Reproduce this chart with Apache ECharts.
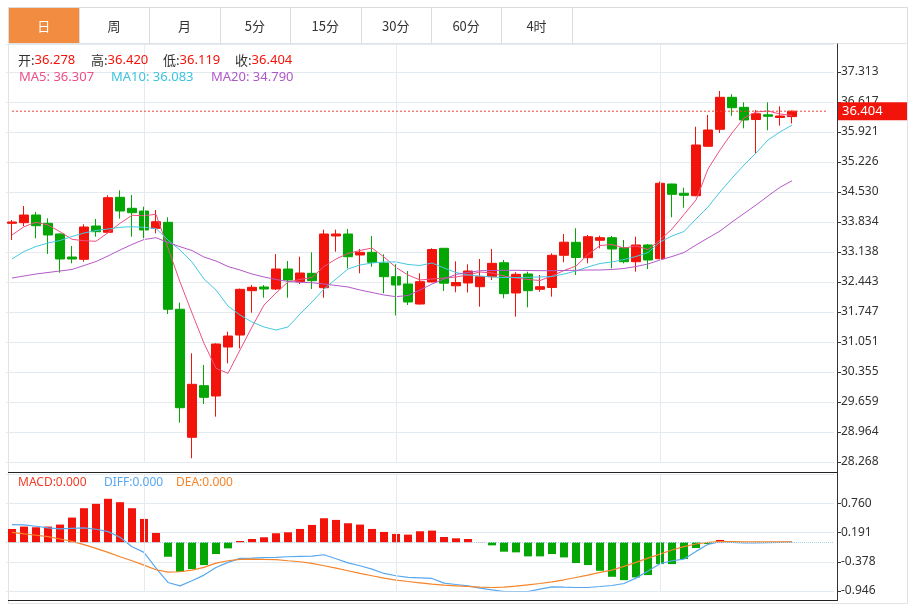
<!DOCTYPE html>
<html><head><meta charset="utf-8">
<script src="https://cdn.jsdelivr.net/npm/echarts@6/dist/echarts.min.js"></script>
<style>html,body{margin:0;padding:0;background:#fff}#c{width:915px;height:605px}</style>
</head><body><div id="c"></div>
<script>
// ---------- data ----------
const tabs = ['日','周','月','5分','15分','30分','60分','4时'];
const categories = Array.from({length: 69}, (_, i) => 'D' + (i + 1));
// [open, close, low, high]
const ohlc = [
 [33.804,33.834,33.417,33.880],[33.818,33.996,33.741,34.205],[33.996,33.748,33.456,34.066],[33.804,33.533,33.092,33.920],
 [33.556,32.976,32.658,33.572],[33.022,32.976,32.876,33.278],[32.969,33.718,32.913,33.781],[33.741,33.609,33.493,33.904],
 [33.595,34.398,33.572,34.453],[34.407,34.089,33.911,34.569],[34.152,34.050,33.493,34.460],[34.089,33.649,33.456,34.189],
 [33.688,33.841,33.572,34.112],[33.827,31.810,31.701,33.943],[31.810,29.527,29.180,31.963],[28.841,30.070,28.354,30.789],
 [30.038,29.768,29.613,30.518],[29.799,31.005,29.319,31.021],[30.935,31.190,30.557,31.290],[31.213,32.273,30.905,32.290],
 [32.241,32.320,31.731,32.373],[32.327,32.280,32.078,32.373],[32.280,32.744,32.257,33.092],[32.744,32.489,32.078,32.930],
 [32.449,32.651,32.396,33.029],[32.644,32.473,32.280,33.131],[32.310,33.556,32.078,33.656],[33.510,33.556,33.145,33.656],
 [33.556,33.029,32.760,33.672],[33.069,33.131,32.644,33.208],[33.131,32.900,32.797,33.510],[32.883,32.566,32.181,33.085],
 [32.566,32.373,31.666,32.853],[32.396,31.979,31.909,32.698],[31.932,32.450,31.920,32.644],[32.443,33.196,32.436,33.224],
 [33.224,32.415,32.234,33.230],[32.354,32.431,32.204,32.923],[32.420,32.698,32.199,32.853],[32.334,32.565,31.870,32.976],
 [32.565,32.876,32.489,33.208],[32.890,32.171,32.065,32.953],[32.188,32.621,31.638,32.668],[32.628,32.241,31.856,32.682],
 [32.273,32.334,32.218,32.605],[32.315,33.062,32.102,33.108],[33.062,33.366,32.900,33.556],[33.363,33.011,32.605,33.688],
 [33.006,33.493,32.876,33.533],[33.410,33.470,33.224,33.517],[33.470,33.208,32.760,33.510],[33.238,32.913,32.876,33.417],
 [32.913,33.301,32.681,33.493],[33.301,32.953,32.744,33.324],[32.983,34.732,32.970,34.773],[34.715,34.476,33.943,34.720],
 [34.500,34.453,34.166,34.630],[34.444,35.620,34.430,36.044],[35.590,35.968,35.580,36.316],[35.984,36.726,35.898,36.872],
 [36.726,36.485,36.297,36.798],[36.494,36.200,36.007,36.610],[36.211,36.344,35.434,36.432],[36.320,36.286,35.961,36.610],
 [36.258,36.293,36.068,36.517],[36.278,36.404,36.119,36.420]
];
const ma5 = [33.533,33.725,33.827,33.765,33.609,33.433,33.400,33.387,33.586,33.804,33.990,33.980,34.013,33.231,32.443,31.724,
 31.021,30.441,30.325,30.866,31.399,31.909,32.188,32.443,32.501,32.547,32.802,32.976,33.104,33.173,33.231,33.022,32.779,
 32.605,32.489,32.512,32.535,32.559,32.605,32.675,32.651,32.582,32.535,32.501,32.477,32.582,32.709,32.814,33.080,33.289,
 33.312,33.231,33.278,33.196,33.417,33.672,34.008,34.344,35.063,35.504,35.898,36.246,36.385,36.409,36.339,36.307];
const ma10 = [32.976,33.150,33.266,33.347,33.405,33.498,33.579,33.637,33.672,33.711,33.725,33.711,33.683,33.417,33.185,32.907,
 32.512,32.257,31.886,31.677,31.515,31.399,31.329,31.399,31.701,31.979,32.280,32.512,32.744,32.837,32.883,32.907,32.907,
 32.849,32.825,32.883,32.767,32.663,32.605,32.582,32.559,32.547,32.547,32.552,32.559,32.570,32.628,32.698,32.791,32.872,
 32.907,32.965,33.034,33.127,33.370,33.510,33.614,33.904,34.182,34.530,34.850,35.156,35.434,35.736,35.922,36.083];
const ma20 = [32.535,32.582,32.628,32.663,32.698,32.733,32.825,32.918,33.046,33.185,33.312,33.428,33.470,33.359,33.261,33.173,
 33.022,32.930,32.802,32.721,32.628,32.559,32.501,32.454,32.436,32.426,32.396,32.362,32.327,32.257,32.199,32.141,32.102,
 32.130,32.257,32.396,32.512,32.617,32.663,32.705,32.709,32.714,32.714,32.709,32.705,32.705,32.709,32.714,32.721,32.721,
 32.733,32.756,32.802,32.860,32.953,33.034,33.127,33.301,33.463,33.625,33.834,34.031,34.228,34.437,34.639,34.790];
const macd = [0.260,0.306,0.293,0.306,0.345,0.481,0.663,0.748,0.846,0.780,0.663,0.455,0.182,-0.280,-0.572,-0.520,-0.442,
 -0.228,-0.117,0.026,0.065,0.098,0.176,0.195,0.260,0.338,0.468,0.436,0.371,0.345,0.260,0.202,0.163,0.150,0.215,0.228,0.104,
 0.078,0.065,0.004,-0.059,-0.182,-0.195,-0.273,-0.273,-0.228,-0.293,-0.403,-0.442,-0.553,-0.670,-0.735,-0.683,-0.637,-0.423,
 -0.423,-0.325,-0.111,-0.033,0.046,0.010,0.005,0.004,0.003,0.003,0.003];
const diff = [0.345,0.338,0.312,0.280,0.260,0.273,0.280,0.254,0.208,0.098,-0.085,-0.195,-0.501,-0.780,-0.846,-0.748,-0.637,
 -0.488,-0.390,-0.312,-0.306,-0.299,-0.293,-0.280,-0.273,-0.267,-0.241,-0.320,-0.400,-0.455,-0.520,-0.605,-0.650,-0.683,-0.689,
 -0.702,-0.793,-0.820,-0.846,-0.891,-0.924,-0.956,-0.956,-0.956,-0.911,-0.865,-0.872,-0.878,-0.878,-0.859,-0.839,-0.800,
 -0.696,-0.559,-0.416,-0.358,-0.325,-0.176,-0.039,0.013,0.000,-0.013,-0.013,-0.007,0.000,0.007];
const dea = [0.195,0.163,0.137,0.111,0.065,0.020,-0.046,-0.117,-0.195,-0.280,-0.358,-0.442,-0.533,-0.579,-0.572,-0.540,-0.488,
 -0.403,-0.358,-0.332,-0.325,-0.332,-0.338,-0.358,-0.377,-0.410,-0.455,-0.501,-0.553,-0.605,-0.650,-0.696,-0.735,-0.761,-0.787,
 -0.813,-0.833,-0.846,-0.859,-0.872,-0.878,-0.872,-0.852,-0.826,-0.800,-0.767,-0.728,-0.683,-0.637,-0.585,-0.540,-0.468,
 -0.390,-0.306,-0.228,-0.150,-0.085,-0.033,0.000,0.013,0.013,0.007,0.007,0.007,0.007,0.007];
const priceTicks = ['28.268','28.964','29.659','30.355','31.051','31.747','32.443','33.138','33.834','34.530','35.226','35.921','36.617','37.313'];
const macdTicks = ['-0.946','-0.378','0.191','0.760'];
const monthStarts = [11, 32, 54];
const lastPrice = 36.404;
const quote = [['开:','36.278'],['高:','36.420'],['低:','36.119'],['收:','36.404']];
const maInfo = [['MA5: 36.307','#ec4f86'],['MA10: 36.083','#3ec3de'],['MA20: 34.790','#b058c9']];
const macdInfo = [['MACD:0.000','#f23c26'],['DIFF:0.000','#58a8f0'],['DEA:0.000','#f5842a']];

// ---------- style ----------
const RED = '#f2140a', GREEN = '#04a604';
const P_MIN = 28.268, P_INT = 0.695769;
const M_MIN = -0.946, M_INT = 0.5685;
const FONT = "'Noto Sans','Noto Sans CJK SC',sans-serif";

const graphic = [];
graphic.push({type:'rect', shape:{x:8.5,y:7.5,width:899,height:36}, style:{fill:'#fff',stroke:'#dcdcdc',lineWidth:1}, z:0});
graphic.push({type:'rect', shape:{x:9,y:8,width:70,height:35}, style:{fill:'#f28c40'}, z:1});
tabs.forEach((t, i) => {
  const x = 8.5 + 70.4 * i;
  graphic.push({type:'line', shape:{x1:Math.round(x+70.4)+0.5,y1:7.5,x2:Math.round(x+70.4)+0.5,y2:43.5}, style:{stroke:'#dcdcdc',lineWidth:1}, z:1});
  graphic.push({type:'text', x: x + 35.2, y: 26, style:{text:t, fill: i===0?'#fff':'#333', font:"13px 'Noto Sans CJK SC',sans-serif", align:'center', verticalAlign:'middle'}, z:2});
});
graphic.push({type:'rect', shape:{x:8.5,y:43.5,width:899,height:560}, style:{fill:'none',stroke:'#e2e2e2',lineWidth:1}, z:0, silent:true});
graphic.push({type:'line', shape:{x1:8,y1:472.5,x2:837,y2:472.5}, style:{stroke:'#222',lineWidth:1.2}, z:5});
graphic.push({type:'line', shape:{x1:8,y1:600.5,x2:837,y2:600.5}, style:{stroke:'#222',lineWidth:1.2}, z:5});
graphic.push({type:'line', shape:{x1:837.5,y1:460,x2:837.5,y2:476}, style:{stroke:'#333',lineWidth:1}, z:5});
graphic.push({type:'line', shape:{x1:837.5,y1:590,x2:837.5,y2:601}, style:{stroke:'#333',lineWidth:1}, z:5});
const qx = [18, 91, 163, 235];
quote.forEach((q, i) => {
  graphic.push({type:'text', x: qx[i], y: 60, style:{text:'{a|' + q[0] + '}{b|' + q[1] + '}', font:'13px ' + FONT, verticalAlign:'middle',
    rich:{a:{fill:'#333', font:"13px 'Noto Sans CJK SC',sans-serif"}, b:{fill:RED, font:'13px ' + FONT}}}, z:6});
});
const mx = [19, 111, 211];
maInfo.forEach((m, i) => graphic.push({type:'text', x: mx[i], y: 77, style:{text:m[0], fill:m[1], font:'13px ' + FONT, verticalAlign:'middle'}, z:6}));
const dx = [18, 104, 176];
macdInfo.forEach((m, i) => graphic.push({type:'text', x: dx[i], y: 483, style:{text:m[0], fill:m[1], font:'12px ' + FONT, verticalAlign:'middle'}, z:6}));

const vLines = (gi) => ({
  type:'line', xAxisIndex:gi, yAxisIndex:gi, data:[], silent:true, z:1,
  markLine:{symbol:['none','none'], silent:true, animation:false, label:{show:false},
    lineStyle:{color:'#e3ebf1', type:'solid', width:1},
    data: monthStarts.map(i => ({xAxis: categories[i]}))}
});

const chart = echarts.init(document.getElementById('c'));
chart.setOption({
  animation:false,
  backgroundColor:'#fff',
  graphic: graphic,
  grid:[
    {left:6, top:44, width:828, height:418, outerBoundsMode:'none', containLabel:false},
    {left:6, top:474, width:828, height:117, outerBoundsMode:'none', containLabel:false}
  ],
  xAxis:[
    {type:'category', gridIndex:0, data:categories, boundaryGap:true, axisLine:{show:false}, axisTick:{show:false}, axisLabel:{show:false}, splitLine:{show:false}},
    {type:'category', gridIndex:1, data:categories, boundaryGap:true, axisLine:{show:false}, axisTick:{show:false}, axisLabel:{show:false}, splitLine:{show:false}}
  ],
  yAxis:[
    {type:'value', gridIndex:0, position:'right', offset:3, min:P_MIN, max:P_MIN + 418/30*P_INT, interval:P_INT, scale:true,
     axisLine:{show:true, lineStyle:{color:'#333'}}, axisTick:{show:true, length:4, lineStyle:{color:'#333'}},
     axisLabel:{color:'#333', fontSize:12, fontFamily:FONT, margin:4, showMaxLabel:false,
       formatter: v => priceTicks[Math.round((v - P_MIN) / P_INT)] || ''},
     splitLine:{show:true, lineStyle:{color:'#e3ebf1', width:1}}},
    {type:'value', gridIndex:1, position:'right', offset:3, min:M_MIN, max:M_MIN + 4*M_INT, interval:M_INT,
     axisLine:{show:true, lineStyle:{color:'#333'}}, axisTick:{show:true, length:4, lineStyle:{color:'#333'}},
     axisLabel:{color:'#333', fontSize:12, fontFamily:FONT, margin:4, showMaxLabel:false,
       formatter: v => macdTicks[Math.round((v - M_MIN) / M_INT)] || ''},
     splitLine:{show:true, lineStyle:{color:'#e3ebf1', width:1}}}
  ],
  series:[
    vLines(0),
    {type:'candlestick', name:'K', xAxisIndex:0, yAxisIndex:0, data:ohlc, barWidth:9, z:3,
     itemStyle:{color:RED, color0:GREEN, borderColor:RED, borderColor0:GREEN, borderWidth:1}},
    // last-price reference line with its value box
    {type:'line', name:'last', xAxisIndex:0, yAxisIndex:0, symbol:'none', z:6, silent:true,
     data:[[categories[0], lastPrice], [categories[categories.length - 1], lastPrice]],
     lineStyle:{color:'#f3463b', type:[2,2], width:1},
     endLabel:{show:true, distance:10, formatter: lastPrice.toFixed(3), color:'#fff', backgroundColor:RED,
       padding:[3,4,2,4], width:61, fontSize:13, fontFamily:FONT}},
    {type:'line', name:'MA5', xAxisIndex:0, yAxisIndex:0, data:ma5, symbol:'none', z:4, lineStyle:{color:'#ee5082', width:1}},
    {type:'line', name:'MA10', xAxisIndex:0, yAxisIndex:0, data:ma10, symbol:'none', z:4, lineStyle:{color:'#46c8e1', width:1}},
    {type:'line', name:'MA20', xAxisIndex:0, yAxisIndex:0, data:ma20, symbol:'none', z:4, lineStyle:{color:'#b45ac8', width:1}},
    vLines(1),
    {type:'bar', name:'MACD', xAxisIndex:1, yAxisIndex:1, data:macd, barWidth:8, z:3,
     itemStyle:{color: p => p.value >= 0 ? RED : GREEN},
     markLine:{symbol:['none','none'], silent:true, animation:false, label:{show:false},
       lineStyle:{color:'#a8d8ee', type:'dotted', width:1}, data:[{yAxis:0}]}},
    {type:'line', name:'DIFF', xAxisIndex:1, yAxisIndex:1, data:diff, symbol:'none', z:4, lineStyle:{color:'#58a8f0', width:1.2}},
    {type:'line', name:'DEA', xAxisIndex:1, yAxisIndex:1, data:dea, symbol:'none', z:4, lineStyle:{color:'#f5842a', width:1.2}}
  ]
});
</script></body></html>
